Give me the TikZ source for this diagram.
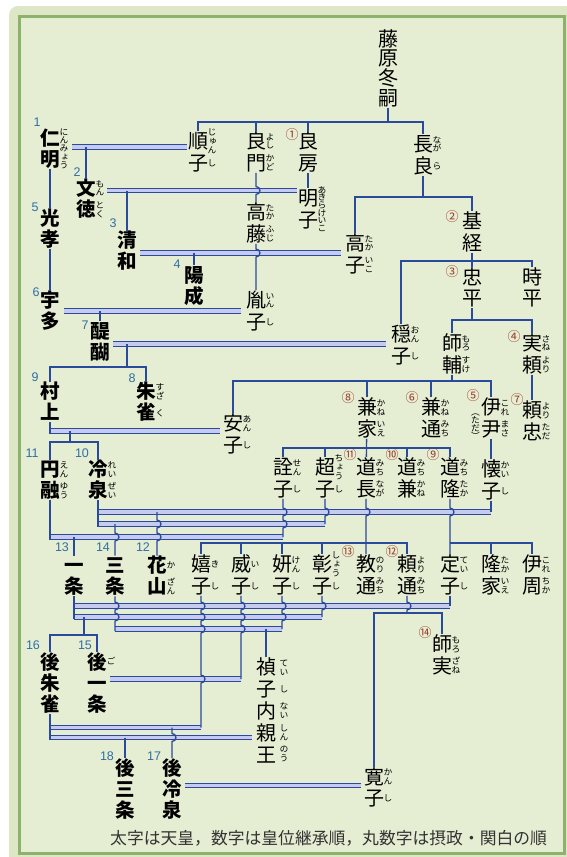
\documentclass[tikz,border=0pt]{standalone}
\usepackage{fontspec}
\setmainfont{Liberation Sans}
\newfontfamily\jp{Noto Sans CJK JP}
\newfontfamily\jpv[RawFeature=+vert]{Noto Sans CJK JP}
\newfontfamily\nf{Liberation Sans}
\usetikzlibrary{calc}
\definecolor{outerc}{HTML}{DDE7C6}
\definecolor{innerc}{HTML}{E5EDD2}
\definecolor{borderc}{HTML}{8DB26C}
\definecolor{linec}{HTML}{2A4A9C}
\definecolor{wedc}{HTML}{C7CBF0}
\definecolor{numc}{HTML}{2F6FA3}
\definecolor{cnumc}{HTML}{9A3A2A}
\definecolor{capc}{HTML}{333333}

\ExplSyntaxOn
\NewDocumentCommand\vt{O{1.075}m}{
  \vbox{
    \baselineskip=#1em \lineskiplimit=-100pt \lineskip=0pt
    \tl_map_inline:nn {#2} {
      \hbox_to_wd:nn {1em} { \hss \vrule height 0.88em depth 0.12em width 0pt ##1 \hss }
    }
  }
}
\ExplSyntaxOff

\newcommand\pp[4][fj]{\node[#1] (#2) at (#3) {\vt{#4}};}
\newcommand\ru[5][14]{\node[fu] (#2-r#4) at ($(#2.center)+(#1,{(#4-(#3+1)/2)*21.5})$) {\vt[1.0]{#5}};}
\newcommand\rus[4][14]{\node[fu] (#2-r) at ($(#2.center)+(#1,0)$) {\vt[#4]{#3}};}
\def\hp{arc[start angle=90,end angle=-90,radius=4pt]}

\begin{document}
\begin{tikzpicture}[x=1pt,y=-1pt,
  fj/.style={inner sep=0pt, font=\jp\fontsize{20}{20}\selectfont},
  emp/.style={inner sep=0pt, font=\jp\bfseries\fontsize{19.5}{20}\selectfont},
  fu/.style={inner sep=0pt, font=\jpv\fontsize{8.8}{9}\selectfont},
  num/.style={inner sep=0pt, text=numc, font=\nf\fontsize{12.5}{13}\selectfont},
  cnum/.style={inner sep=0pt, text=cnumc, font=\jp\fontsize{13}{13}\selectfont},
  kin/.style={draw=linec, line width=1.3pt},
  wed/.style={draw=linec, line width=1pt, double=wedc, double distance=3.2pt},
]
\useasboundingbox (0,0) rectangle (567,857);
\fill[white] (0,0) rectangle (567,857);
\fill[outerc, rounded corners=9pt] (9,6) rectangle (575,866);
\filldraw[fill=innerc, draw=borderc, line width=3pt] (19,16) rectangle (564,853);

% ---------- persons ----------
\node[fj] (fuyutsugu) at (388,68) {\vt[0.98]{藤原冬嗣}};
\pp{junshi}{198,152}{順子} \ru{junshi}{2}{1}{じゅん}\ru{junshi}{2}{2}{し}
\pp{yoshikado}{256,152}{良門} \ru{yoshikado}{2}{1}{よし}\ru{yoshikado}{2}{2}{かど}
\pp{yoshifusa}{308,152}{良房}
\pp{nagara}{423,155}{長良} \ru{nagara}{2}{1}{なが}\ru{nagara}{2}{2}{ら}
\pp{meishi}{308,209}{明子} \rus{meishi}{あきらけいこ}{0.86}
\pp[emp]{ninmyo}{50,148.5}{仁明} \rus{ninmyo}{にんみょう}{0.95}
\pp[emp]{montoku}{86,199}{文徳} \ru{montoku}{2}{1}{もん}\ru{montoku}{2}{2}{とく}
\pp{takafuji}{256,223}{高藤} \ru{takafuji}{2}{1}{たか}\ru{takafuji}{2}{2}{ふじ}
\pp{takaiko}{355,254}{高子} \ru{takaiko}{2}{1}{たか}\ru{takaiko}{2}{2}{いこ}
\pp[emp]{seiwa}{127,251}{清和}
\pp[emp]{yozei}{194,285.5}{陽成}
\pp{inshi}{256,311}{胤子} \ru{inshi}{2}{1}{いん}\ru{inshi}{2}{2}{し}
\pp[emp]{koko}{50,229}{光孝}
\pp[emp]{uda}{50,311}{宇多}
\pp[emp]{daigo}{100,341.5}{醍醐}
\pp{onshi}{401,345}{穏子} \ru{onshi}{2}{1}{おん}\ru{onshi}{2}{2}{し}
\pp{mototsune}{472,232}{基経}
\pp{tadahira}{472,287.5}{忠平}
\pp{tokihira}{532,287.5}{時平}
\pp{morosuke}{452,354}{師輔} \ru{morosuke}{2}{1}{もろ}\ru{morosuke}{2}{2}{すけ}
\pp{saneyori}{532,354}{実頼} \ru{saneyori}{2}{1}{さね}\ru{saneyori}{2}{2}{より}
\pp{yoritada}{532,421}{頼忠} \ru{yoritada}{2}{1}{より}\ru{yoritada}{2}{2}{ただ}
\pp[emp]{murakami}{50,402}{村上}
\pp[emp]{suzaku}{146,402}{朱雀} \ru{suzaku}{2}{1}{すざ}\ru{suzaku}{2}{2}{く}
\pp{anshi}{233,434}{安子} \ru{anshi}{2}{1}{あん}\ru{anshi}{2}{2}{し}
\pp{kaneie}{367,418}{兼家} \ru{kaneie}{2}{1}{かね}\ru{kaneie}{2}{2}{いえ}
\pp{kanemichi}{431,418}{兼通} \ru{kanemichi}{2}{1}{かね}\ru{kanemichi}{2}{2}{みち}
\pp{koretada}{491,418}{伊尹} \ru{koretada}{2}{1}{これ}\ru{koretada}{2}{2}{まさ}
\node[fu] (koretada-l) at (475.5,424) {\vt[0.92]{（ただ）}};
\pp[emp]{enyu}{50,480}{円融} \ru{enyu}{2}{1}{えん}\ru{enyu}{2}{2}{ゆう}
\pp[emp]{reizei}{98,480}{冷泉} \ru{reizei}{2}{1}{れい}\ru{reizei}{2}{2}{ぜい}
\pp{senshi}{283,478}{詮子} \ru{senshi}{2}{1}{せん}\ru{senshi}{2}{2}{し}
\pp{choshi}{325,478}{超子} \ru{choshi}{2}{1}{ちょう}\ru{choshi}{2}{2}{し}
\pp{michinaga}{366,478}{道長} \ru{michinaga}{2}{1}{みち}\ru{michinaga}{2}{2}{なが}
\pp{michikane}{407,478}{道兼} \ru{michikane}{2}{1}{みち}\ru{michikane}{2}{2}{かね}
\pp{michitaka}{450,478}{道隆} \ru{michitaka}{2}{1}{みち}\ru{michitaka}{2}{2}{たか}
\pp{kaishi}{491,480}{懐子} \ru{kaishi}{2}{1}{かい}\ru{kaishi}{2}{2}{し}
\pp[emp]{ichijo}{74,576}{一条}
\pp[emp]{sanjo}{115,576}{三条}
\pp[emp]{kazan}{157,576}{花山} \ru{kazan}{2}{1}{か}\ru{kazan}{2}{2}{ざん}
\pp{kishi}{201,575}{嬉子} \ru{kishi}{2}{1}{き}\ru{kishi}{2}{2}{し}
\pp{ishi}{241,575}{威子} \ru{ishi}{2}{1}{い}\ru{ishi}{2}{2}{し}
\pp{kenshi}{282,575}{妍子} \ru{kenshi}{2}{1}{けん}\ru{kenshi}{2}{2}{し}
\pp{shoshi}{322,575}{彰子} \ru{shoshi}{2}{1}{しょう}\ru{shoshi}{2}{2}{し}
\pp{norimichi}{366,575}{教通} \ru{norimichi}{2}{1}{のり}\ru{norimichi}{2}{2}{みち}
\pp{yorimichi}{407,575}{頼通} \ru{yorimichi}{2}{1}{より}\ru{yorimichi}{2}{2}{みち}
\pp{teishi}{450,575}{定子} \ru{teishi}{2}{1}{てい}\ru{teishi}{2}{2}{し}
\pp{takaie}{491,575}{隆家} \ru{takaie}{2}{1}{たか}\ru{takaie}{2}{2}{いえ}
\pp{korechika}{532,575}{伊周} \ru{korechika}{2}{1}{これ}\ru{korechika}{2}{2}{ちか}
\pp{morozane}{442,655}{師実} \ru{morozane}{2}{1}{もろ}\ru{morozane}{2}{2}{ざね}
\pp[emp]{gosuzaku}{50,683}{後朱雀}
\pp[emp]{goichijo}{97,683}{後一条} \ru{goichijo}{3}{1}{ご}
\node[fj] (teishinaishinno) at (266,711) {\vt[1.1]{禎子内親王}};
\ru[18]{teishinaishinno}{5}{1}{てい}\ru[18]{teishinaishinno}{5}{2}{し}\ru[18]{teishinaishinno}{5}{3}{ない}\ru[18]{teishinaishinno}{5}{4}{しん}\ru[18]{teishinaishinno}{5}{5}{のう}
\pp[emp]{gosanjo}{125,789}{後三条}
\pp[emp]{goreizei}{172,789}{後冷泉}
\pp{kanshi}{374,787.5}{寛子} \ru{kanshi}{2}{1}{かん}\ru{kanshi}{2}{2}{し}

% ---------- succession numbers ----------
\node[num] (n1) at (37,122) {1};
\node[num] (n2) at (77,172) {2};
\node[num] (n3) at (113,223) {3};
\node[num] (n4) at (177,264) {4};
\node[num] (n5) at (35,207) {5};
\node[num] (n6) at (36,292) {6};
\node[num] (n7) at (85,325) {7};
\node[num] (n8) at (132,378) {8};
\node[num] (n9) at (35,377) {9};
\node[num] (n10) at (82,453) {10};
\node[num] (n11) at (32,453) {11};
\node[num] (n12) at (143,547) {12};
\node[num] (n13) at (62,547) {13};
\node[num] (n14) at (103,547) {14};
\node[num] (n15) at (85,645) {15};
\node[num] (n16) at (33,645) {16};
\node[num] (n17) at (154,756) {17};
\node[num] (n18) at (107,756) {18};

\node[cnum] (c1) at (292,135) {①};
\node[cnum] (c2) at (452,217) {②};
\node[cnum] (c3) at (452,272) {③};
\node[cnum] (c4) at (514,337) {④};
\node[cnum] (c5) at (473,396) {⑤};
\node[cnum] (c6) at (412,398) {⑥};
\node[cnum] (c7) at (517,400) {⑦};
\node[cnum] (c8) at (348,398) {⑧};
\node[cnum] (c9) at (433,455) {⑨};
\node[cnum] (c10) at (392,455) {⑩};
\node[cnum] (c11) at (350,455) {⑪};
\node[cnum] (c12) at (392,552) {⑫};
\node[cnum] (c13) at (348,552) {⑬};
\node[cnum] (c14) at (425,633) {⑭};

% ---------- marriages ----------
\draw[wed] (72,147) -- (187,147);
\draw[wed] (107,190.5) -- (297,190.5);
\draw[wed] (140,253) -- (341,253);
\draw[wed] (64,311) -- (241,311);
\draw[wed] (113,344) -- (386,344);
\draw[wed] (50,431) -- (220,431);
\draw[wed] (98,512) -- (491,512);
\draw[wed] (98,524) -- (325,524);
\draw[wed] (50,537) -- (283,537);
\draw[wed] (74,606) -- (450,606);
\draw[wed] (74,617) -- (322,617);
\draw[wed] (115,629) -- (282,629);
\draw[wed] (110,679) -- (241,679);
\draw[wed] (50,727.5) -- (201,727.5);
\draw[wed] (50,737.5) -- (252,737.5);
\draw[wed] (185,785.5) -- (361,785.5);

% ---------- descent ----------
\draw[kin] (fuyutsugu) -- (388,122);
\draw[kin] (junshi) -- (198,122) -- (423,122) -- (nagara);
\draw[kin] (256,122) -- (yoshikado);
\draw[kin] (308,122) -- (yoshifusa);
\draw[kin] (yoshifusa) -- (meishi);
\draw[kin] (86,147) -- (montoku);
\draw[kin] (yoshikado) -- (256,186.5) \hp -- (takafuji);
\draw[kin] (127,190.5) -- (seiwa);
\draw[kin] (nagara) -- (423,197);
\draw[kin] (takaiko) -- (355,197) -- (472,197) -- (mototsune);
\draw[kin] (194,253) -- (yozei);
\draw[kin] (takafuji) -- (256,249) \hp -- (inshi);
\draw[kin] (ninmyo) -- (koko);
\draw[kin] (koko) -- (uda);
\draw[kin] (100,311) -- (daigo);
\draw[kin] (127,344) -- (127,367);
\draw[kin] (murakami) -- (50,367) -- (146,367) -- (suzaku);
\draw[kin] (mototsune) -- (472,261);
\draw[kin] (onshi) -- (401,261) -- (532,261) -- (tokihira);
\draw[kin] (472,261) -- (tadahira);
\draw[kin] (tadahira) -- (472,320);
\draw[kin] (morosuke) -- (452,320) -- (532,320) -- (saneyori);
\draw[kin] (saneyori) -- (yoritada);
\draw[kin] (morosuke) -- (452,381);
\draw[kin] (anshi) -- (233,381) -- (491,381) -- (koretada);
\draw[kin] (367,381) -- (kaneie);
\draw[kin] (431,381) -- (kanemichi);
\draw[kin] (murakami) -- (50,434);
\draw[kin] (70,431) -- (70,442);
\draw[kin] (enyu) -- (50,442) -- (98,442) -- (reizei);
\draw[kin] (kaneie) -- (michinaga);
\draw[kin] (senshi) -- (283,448) -- (450,448) -- (michitaka);
\draw[kin] (325,448) -- (choshi);
\draw[kin] (407,448) -- (michikane);
\draw[kin] (koretada) -- (kaishi);

\draw[kin] (reizei) -- (98,526.5);
\draw[kin] (enyu) -- (50,539.5);
\draw[kin] (kaishi) -- (491,512);
\draw[kin] (senshi) -- (283,508) \hp -- (283,520) \hp -- (283,537);
\draw[kin] (choshi) -- (325,508) \hp -- (325,524);
\draw[kin] (michinaga) -- (366,508) \hp -- (norimichi);
\draw[kin] (michitaka) -- (450,508) \hp -- (teishi);
\draw[kin] (kishi) -- (201,543) -- (407,543) -- (yorimichi);
\draw[kin] (241,543) -- (ishi);
\draw[kin] (282,543) -- (kenshi);
\draw[kin] (322,543) -- (shoshi);
\draw[kin] (450,543) -- (532,543) -- (korechika);
\draw[kin] (491,543) -- (takaie);
\draw[kin] (157,512) -- (157,520) \hp -- (157,533) \hp -- (kazan);
\draw[kin] (115,524) -- (115,533) \hp -- (sanjo);
\draw[kin] (74,537) -- (ichijo);

\draw[kin] (ichijo) -- (74,619);
\draw[kin] (sanjo) -- (115,602) \hp -- (115,613) \hp -- (115,631);
\draw[kin] (teishi) -- (450,606);
\draw[kin] (shoshi) -- (322,602) \hp -- (322,617);
\draw[kin] (kenshi) -- (282,602) \hp -- (282,613) \hp -- (282,629);
\draw[kin] (ishi) -- (241,602) \hp -- (241,613) \hp -- (241,625) \hp -- (241,679);
\draw[kin] (kishi) -- (201,602) \hp -- (201,613) \hp -- (201,625) \hp -- (201,675) \hp -- (201,727.5);
\draw[kin] (yorimichi) -- (407,602) \hp -- (407,613);
\draw[kin] (kanshi) -- (374,613) -- (442,613) -- (morozane);
\draw[kin] (266,629) -- (teishinaishinno);
\draw[kin] (84,617) -- (84,635);
\draw[kin] (gosuzaku) -- (50,635) -- (97,635) -- (goichijo);
\draw[kin] (gosuzaku) -- (50,740);
\draw[kin] (172,727.5) -- (172,733.5) \hp -- (goreizei);
\draw[kin] (125,737.5) -- (gosanjo);

% ---------- caption ----------
\node[anchor=west, inner sep=0pt, text=capc, font=\jp\fontsize{16.8}{17}\selectfont] (cap) at (110,838) {太字は天皇，数字は皇位継承順，丸数字は摂政・関白の順};
\end{tikzpicture}
\end{document}
